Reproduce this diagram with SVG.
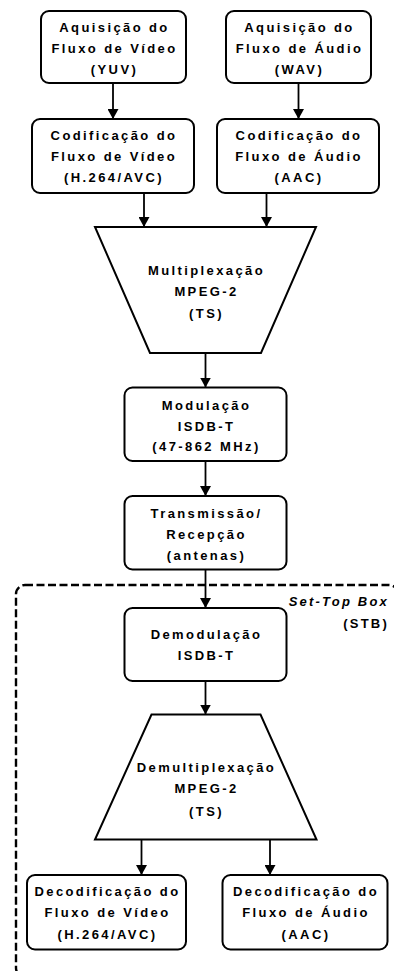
<svg xmlns="http://www.w3.org/2000/svg" width="394" height="971" viewBox="0 0 394 971">
<defs>
<marker id="arr" markerUnits="userSpaceOnUse" markerWidth="10" markerHeight="11" refX="10" refY="5.5" orient="auto">
<path d="M0,0 L10,5.5 L0,11 z" fill="#000"/>
</marker>
<style>
.box{fill:#fff;stroke:#000;stroke-width:2}
.t{font-family:"Liberation Sans",Arial,sans-serif;font-size:13px;font-weight:bold;letter-spacing:2.4px;text-anchor:middle;fill:#000}
.lbl{font-family:"Liberation Sans",Arial,sans-serif;font-size:13px;font-weight:bold;letter-spacing:2.2px;text-anchor:end;fill:#000}
.c{stroke:#000;stroke-width:1.8;fill:none;marker-end:url(#arr)}
</style>
</defs>
<rect width="394" height="971" fill="#fff"/>
<g id="stb">
<rect x="16" y="585" width="382" height="392" rx="9" fill="none" stroke="#000" stroke-width="2.4" stroke-dasharray="8 3.5"/>
<text class="lbl" x="389" y="606" font-style="italic">Set-Top Box</text>
<text class="lbl" x="389" y="628">(STB)</text>
</g>
<g id="connectors">
<line class="c" x1="113" y1="83" x2="113" y2="119"/>
<line class="c" x1="298.5" y1="83" x2="298.5" y2="119"/>
<line class="c" x1="144" y1="193" x2="144" y2="227"/>
<line class="c" x1="266.5" y1="193" x2="266.5" y2="227"/>
<line class="c" x1="205.5" y1="353" x2="205.5" y2="387.5"/>
<line class="c" x1="205.5" y1="461" x2="205.5" y2="496"/>
<line class="c" x1="205.5" y1="569.5" x2="205.5" y2="608"/>
<line class="c" x1="205.5" y1="681" x2="205.5" y2="714.5"/>
<line class="c" x1="141.5" y1="839.5" x2="141.5" y2="875"/>
<line class="c" x1="270" y1="839.5" x2="270" y2="875"/>
</g>
<g id="acqVideo">
<rect class="box" x="41" y="11" width="145" height="72" rx="8"/>
<text class="t" x="114.5" y="32">Aquisição do</text>
<text class="t" x="114.5" y="53">Fluxo de Vídeo</text>
<text class="t" x="114.5" y="74">(YUV)</text>
</g>
<g id="acqAudio">
<rect class="box" x="226" y="11" width="145" height="72" rx="8"/>
<text class="t" x="299.5" y="32">Aquisição do</text>
<text class="t" x="299.5" y="53">Fluxo de Áudio</text>
<text class="t" x="299.5" y="74">(WAV)</text>
</g>
<g id="codVideo">
<rect class="box" x="32" y="119" width="162" height="74" rx="8"/>
<text class="t" x="114" y="139.5">Codificação do</text>
<text class="t" x="114" y="161">Fluxo de Vídeo</text>
<text class="t" x="114" y="182">(H.264/AVC)</text>
</g>
<g id="codAudio">
<rect class="box" x="217" y="119" width="162" height="74" rx="8"/>
<text class="t" x="299" y="139.5">Codificação do</text>
<text class="t" x="299" y="161">Fluxo de Áudio</text>
<text class="t" x="299" y="182">(AAC)</text>
</g>
<g id="mux">
<polygon class="box" points="95,227 316,227 261,353 150,353"/>
<text class="t" x="206.5" y="274.5">Multiplexação</text>
<text class="t" x="206.5" y="296">MPEG-2</text>
<text class="t" x="206.5" y="317.5">(TS)</text>
</g>
<g id="mod">
<rect class="box" x="124.5" y="387.5" width="162" height="73.5" rx="8"/>
<text class="t" x="206.5" y="409.5">Modulação</text>
<text class="t" x="206.5" y="430.5">ISDB-T</text>
<text class="t" x="206.5" y="451">(47-862 MHz)</text>
</g>
<g id="txrx">
<rect class="box" x="124.5" y="496" width="162" height="73.5" rx="8"/>
<text class="t" x="206.5" y="517.5">Transmissão/</text>
<text class="t" x="206.5" y="538.5">Recepção</text>
<text class="t" x="206.5" y="560">(antenas)</text>
</g>
<g id="demod">
<rect class="box" x="124.5" y="608" width="162" height="73" rx="8"/>
<text class="t" x="206.5" y="638.5">Demodulação</text>
<text class="t" x="206.5" y="659.5">ISDB-T</text>
</g>
<g id="demux">
<polygon class="box" points="151.5,714.5 260.5,714.5 316.5,839.5 95,839.5"/>
<text class="t" x="206.5" y="771.5">Demultiplexação</text>
<text class="t" x="206.5" y="793">MPEG-2</text>
<text class="t" x="206.5" y="816">(TS)</text>
</g>
<g id="decVideo">
<rect class="box" x="27" y="875" width="159" height="74.5" rx="8"/>
<text class="t" x="107.5" y="896">Decodificação do</text>
<text class="t" x="107.5" y="917">Fluxo de Vídeo</text>
<text class="t" x="107.5" y="939">(H.264/AVC)</text>
</g>
<g id="decAudio">
<rect class="box" x="222.5" y="875" width="165" height="74.5" rx="8"/>
<text class="t" x="306" y="896">Decodificação do</text>
<text class="t" x="306" y="917">Fluxo de Áudio</text>
<text class="t" x="306" y="939">(AAC)</text>
</g>
</svg>
